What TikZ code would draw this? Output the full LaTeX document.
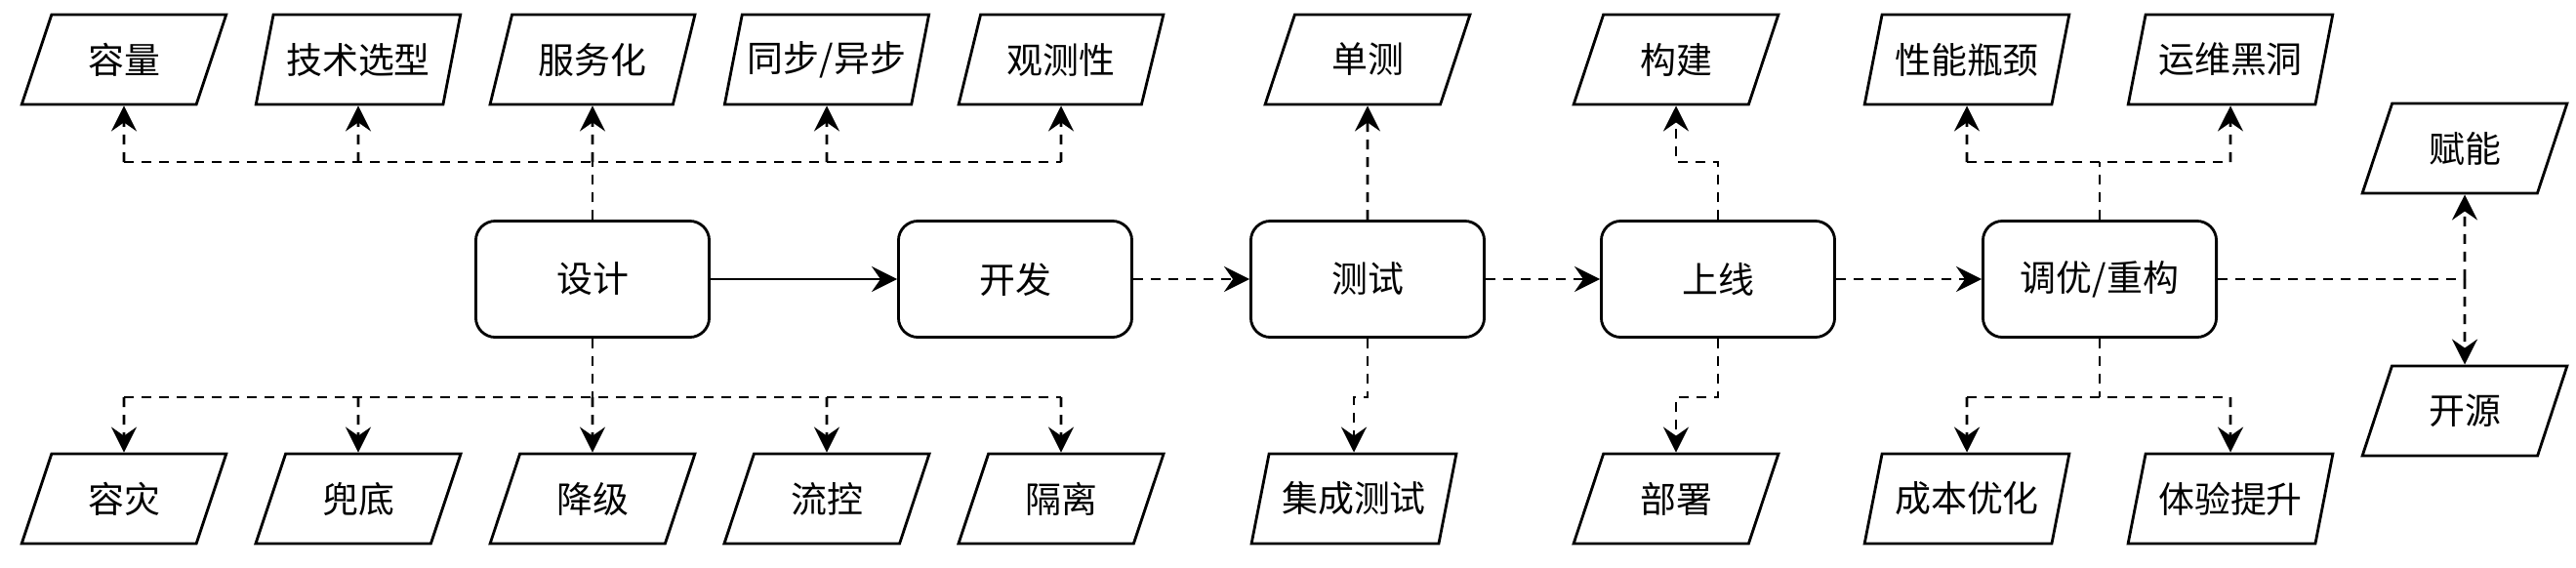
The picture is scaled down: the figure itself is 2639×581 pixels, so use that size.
\documentclass[tikz,border=0pt]{standalone}
\usepackage{fontspec}
\setmainfont{Noto Sans CJK SC}
\usetikzlibrary{shapes.geometric,arrows.meta,positioning}

\begin{document}
\begin{tikzpicture}[
    x=0.01cm, y=-0.01cm,
    font=\fontsize{10.5}{12}\selectfont,
    stage/.style={draw, rounded corners=2mm, minimum width=2.39cm, minimum height=1.19cm, line width=0.8pt},
    item/.style={draw, trapezium, trapezium left angle=66, trapezium right angle=114, trapezium stretches=true, minimum width=2.1cm, minimum height=0.92cm, inner sep=0pt, line width=0.8pt},
    link/.style={-{Stealth[length=2.6mm, width=2.6mm, inset=0.9mm]}, line width=0.8pt},
    dline/.style={line width=0.8pt, dash pattern=on 1mm off 0.8mm},
    dlink/.style={link, dline}
]
\useasboundingbox (0,0) rectangle (2639,581);

\node[stage] (design) at (607,286) {设计};
\node[stage] (dev)    at (1040,286) {开发};
\node[stage] (test)   at (1401,286) {测试};
\node[stage] (launch) at (1760,286) {上线};
\node[stage] (tune)   at (2151,286) {调优/重构};

\node[item] (cap)  at (127,61)  {容量};
\node[item] (tech) at (367,61)  {技术选型};
\node[item] (svc)  at (607,61)  {服务化};
\node[item] (sync) at (847,61)  {同步/异步};
\node[item] (obs)  at (1087,61) {观测性};
\node[item] (unit) at (1401,61) {单测};
\node[item] (build) at (1717,61) {构建};
\node[item] (perf) at (2015,61) {性能瓶颈};
\node[item] (ops)  at (2285,61) {运维黑洞};

\node[item] (dr)    at (127,511)  {容灾};
\node[item] (fb)    at (367,511)  {兜底};
\node[item] (deg)   at (607,511)  {降级};
\node[item] (flow)  at (847,511)  {流控};
\node[item] (iso)   at (1087,511) {隔离};
\node[item] (integ) at (1387,511) {集成测试};
\node[item] (deploy) at (1717,511) {部署};
\node[item] (cost)  at (2015,511) {成本优化};
\node[item] (ux)    at (2285,511) {体验提升};

\node[item] (empower) at (2525,152) {赋能};
\node[item] (oss)     at (2525,421) {开源};

\coordinate (dtop) at (607,166);
\coordinate (dbot) at (607,407);
\coordinate (fork) at (empower |- tune);

\draw[link] (design) -- (dev);
\foreach \a/\b in {dev/test, test/launch, launch/tune}
  \draw[dlink] (\a) -- (\b);

\draw[dline] (design) -- (dtop);
\draw[dline] (cap |- dtop) -- (obs |- dtop);
\foreach \n in {cap, tech, svc, sync, obs}
  \draw[dlink] (\n |- dtop) -- (\n);

\draw[dline] (design) -- (dbot);
\draw[dline] (dr |- dbot) -- (iso |- dbot);
\foreach \n in {dr, fb, deg, flow, iso}
  \draw[dlink] (\n |- dbot) -- (\n);

\draw[dlink] (test) -- (unit);
\draw[dlink] (test) -- (test |- dbot) -| (integ);

\draw[dlink] (launch) -- (launch |- dtop) -| (build);
\draw[dlink] (launch) -- (launch |- dbot) -| (deploy);

\draw[dline] (tune) -- (tune |- dtop);
\draw[dline] (perf |- dtop) -- (ops |- dtop);
\draw[dlink] (perf |- dtop) -- (perf);
\draw[dlink] (ops |- dtop) -- (ops);
\draw[dline] (tune) -- (tune |- dbot);
\draw[dline] (cost |- dbot) -- (ux |- dbot);
\draw[dlink] (cost |- dbot) -- (cost);
\draw[dlink] (ux |- dbot) -- (ux);

\draw[dline] (tune) -- (fork);
\draw[dlink] (fork) -- (empower);
\draw[dlink] (fork) -- (oss);
\end{tikzpicture}
\end{document}
